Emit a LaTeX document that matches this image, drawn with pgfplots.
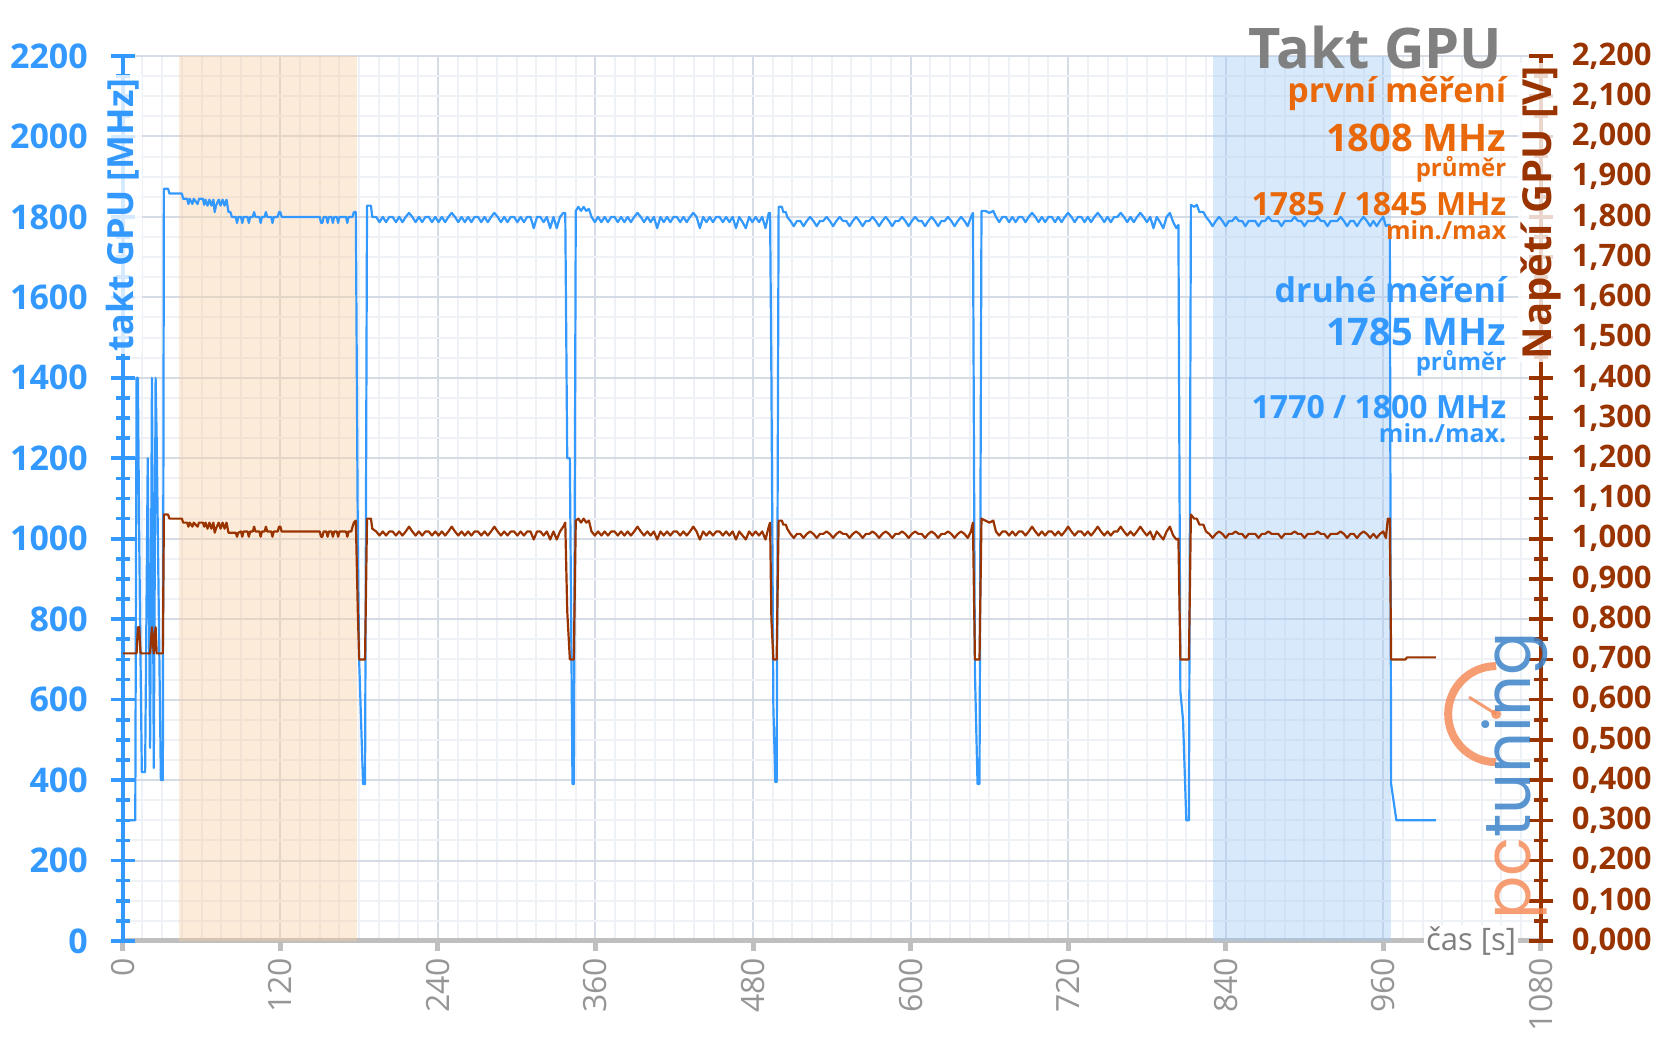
\documentclass[border=0pt]{standalone}
\usepackage{pgfplots}
\pgfplotsset{compat=1.18}
\usepackage{pgfplotstable}
\usepackage{fontspec}
\setmainfont{Open Sans}
\newfontfamily\logofont{Poppins}
\definecolor{blueC}{RGB}{51,153,255}
\definecolor{brownC}{RGB}{153,51,0}
\definecolor{orangeT}{RGB}{232,104,10}
\definecolor{titleG}{RGB}{128,128,128}
\definecolor{xgray}{RGB}{150,150,150}
\definecolor{axgray}{RGB}{191,191,191}
\definecolor{gridmaj}{RGB}{214,220,229}
\definecolor{gridmin}{RGB}{238,241,245}
\definecolor{shadeO}{RGB}{249,204,161}
\definecolor{shadeB}{RGB}{158,201,246}
\definecolor{logoO}{RGB}{244,140,90}
\definecolor{logoB}{RGB}{60,130,200}

\pgfplotstableread{
t f v
0 300 0.715
9.5 300 0.715
10.5 1400 0.715
11.5 1400 0.780
12.5 1000 0.780
13.5 700 0.715
14.5 420 0.715
17 420 0.715
19 1200 0.715
20.8 480 0.715
21.5 900 0.750
22.2 1400 0.780
23 900 0.740
23.6 430 0.715
24.3 900 0.760
25 1400 0.780
25.8 1250 0.715
29 400 0.715
30.5 400 0.715
31.3 1870 1.060
34.5 1870 1.060
35.5 1858 1.050
45 1858 1.050
46 1845 1.040
49 1845 1.040
50 1832 1.030
51 1845 1.040
53 1832 1.030
54 1845 1.040
57 1832 1.030
58 1845 1.040
61 1845 1.040
62 1830 1.030
63 1843 1.040
64.5 1828 1.025
66 1843 1.040
67.5 1828 1.025
69 1843 1.040
70 1812 1.015
71 1828 1.025
73 1843 1.040
74.5 1828 1.025
76 1843 1.040
77.5 1828 1.025
79 1843 1.040
80.5 1812 1.015
82 1812 1.015
83 1800 1.015
86 1800 1.015
87 1785 1.005
88 1800 1.015
90 1800 1.018
91 1785 1.005
92 1800 1.018
95 1800 1.018
96 1785 1.005
97 1800 1.018
99 1800 1.018
100 1812 1.030
101 1800 1.018
104 1800 1.018
105 1785 1.005
106 1800 1.018
108 1800 1.018
109 1812 1.030
110 1800 1.018
113 1800 1.018
114 1785 1.005
115 1800 1.018
118 1800 1.018
119 1812 1.030
120 1812 1.030
121 1800 1.018
150 1800 1.018
151 1785 1.005
152 1785 1.005
153 1800 1.018
155 1800 1.018
156 1785 1.005
157 1800 1.018
159 1800 1.018
160 1785 1.005
161 1800 1.018
163 1800 1.018
164 1785 1.005
165 1800 1.018
170 1800 1.018
171 1785 1.005
172 1800 1.018
174 1800 1.018
175 1800 1.030
176 1812 1.040
177.5 1812 1.045
179 1000 0.820
180 700 0.700
183 390 0.700
184.5 390 0.700
186 1828 1.050
189 1828 1.050
190 1800 1.025
193 1800 1.018
195.5 1787 1.008
198 1800 1.018
200.5 1787 1.008
203 1800 1.018
205.5 1800 1.018
208 1787 1.008
210.5 1800 1.018
213 1787 1.008
215.5 1800 1.018
218 1810 1.030
220.5 1800 1.018
223 1787 1.008
225.5 1800 1.018
228 1787 1.008
230.5 1800 1.018
233 1800 1.018
235.5 1787 1.008
238 1800 1.018
240.5 1787 1.008
243 1800 1.018
245.5 1787 1.008
248 1800 1.018
250.5 1810 1.030
253 1800 1.018
255.5 1787 1.008
258 1800 1.018
260.5 1787 1.008
263 1800 1.018
265.5 1787 1.008
268 1800 1.018
270.5 1800 1.018
273 1787 1.008
275.5 1800 1.018
278 1787 1.008
280.5 1800 1.018
283 1810 1.030
285.5 1800 1.018
288 1787 1.008
290.5 1800 1.018
293 1787 1.008
295.5 1800 1.018
298 1800 1.018
300.5 1787 1.008
303 1800 1.018
305.5 1787 1.008
308 1800 1.018
310.5 1800 1.018
313 1772 0.998
315.5 1800 1.018
318 1800 1.018
320.5 1787 1.008
323 1800 1.018
325.5 1772 0.998
328 1800 1.018
330.5 1772 0.998
333 1800 1.018
335.5 1810 1.030
337 1810 1.040
338.5 1200 0.820
340.5 1200 0.700
342.5 390 0.700
343.5 390 0.700
345 1815 1.045
347 1825 1.050
349 1815 1.040
351 1825 1.050
353 1815 1.040
355 1820 1.045
357 1800 1.018
359.5 1787 1.008
362 1800 1.018
364.5 1787 1.008
367 1800 1.018
369.5 1787 1.008
372 1800 1.018
374.5 1800 1.018
377 1787 1.008
379.5 1800 1.018
382 1787 1.008
384.5 1800 1.018
387 1787 1.008
389.5 1800 1.018
392 1810 1.030
394.5 1800 1.018
397 1787 1.008
399.5 1800 1.018
402 1787 1.008
404.5 1800 1.018
407 1772 0.998
409.5 1800 1.018
412 1787 1.008
414.5 1800 1.018
417 1787 1.008
419.5 1800 1.018
422 1800 1.018
424.5 1787 1.008
427 1800 1.018
429.5 1787 1.008
432 1800 1.018
434.5 1810 1.030
437 1800 1.018
439.5 1772 0.998
442 1800 1.018
444.5 1787 1.008
447 1800 1.018
449.5 1787 1.008
452 1800 1.018
454.5 1800 1.018
457 1787 1.008
459.5 1800 1.018
462 1787 1.008
464.5 1800 1.018
467 1772 0.998
469.5 1800 1.018
472 1787 1.008
474.5 1772 0.998
477 1800 1.018
479.5 1787 1.008
482 1800 1.018
484.5 1787 1.008
487 1800 1.018
489.5 1772 0.998
492 1810 1.030
493 1810 1.040
494 1400 0.800
495.5 580 0.700
497 395 0.700
498 395 0.700
499.5 1825 1.045
502 1825 1.045
503 1812 1.035
505 1812 1.035
506 1800 1.025
508.5 1790 1.012
511 1777 1.002
513.5 1790 1.012
516 1790 1.012
518.5 1777 1.002
521 1790 1.012
523.5 1800 1.018
526 1790 1.012
528.5 1777 1.002
531 1790 1.012
533.5 1790 1.012
536 1800 1.018
538.5 1790 1.012
541 1777 1.002
543.5 1790 1.012
546 1800 1.018
548.5 1790 1.012
551 1790 1.012
553.5 1777 1.002
556 1790 1.012
558.5 1800 1.018
561 1790 1.012
563.5 1777 1.002
566 1790 1.012
568.5 1790 1.012
571 1800 1.018
573.5 1790 1.012
576 1777 1.002
578.5 1790 1.012
581 1800 1.018
583.5 1790 1.012
586 1777 1.002
588.5 1790 1.012
591 1790 1.012
593.5 1800 1.018
596 1790 1.012
598.5 1777 1.002
601 1790 1.012
603.5 1800 1.018
606 1790 1.012
608.5 1790 1.012
611 1777 1.002
613.5 1790 1.012
616 1800 1.018
618.5 1790 1.012
621 1777 1.002
623.5 1790 1.012
626 1790 1.012
628.5 1800 1.018
631 1790 1.012
633.5 1777 1.002
636 1790 1.012
638.5 1800 1.018
641 1790 1.012
643.5 1777 1.002
646 1800 1.018
647.5 1810 1.040
649 670 0.700
651 390 0.700
652.5 390 0.700
654 1815 1.050
657 1815 1.045
660 1810 1.040
663 1815 1.045
665 1800 1.018
667.5 1787 1.008
670 1800 1.018
672.5 1800 1.018
675 1787 1.008
677.5 1800 1.018
680 1787 1.008
682.5 1800 1.018
685 1800 1.018
687.5 1787 1.008
690 1800 1.018
692.5 1810 1.030
695 1800 1.018
697.5 1787 1.008
700 1800 1.018
702.5 1787 1.008
705 1800 1.018
707.5 1800 1.018
710 1787 1.008
712.5 1800 1.018
715 1787 1.008
717.5 1800 1.018
720 1810 1.030
722.5 1800 1.018
725 1787 1.008
727.5 1800 1.018
730 1800 1.018
732.5 1787 1.008
735 1800 1.018
737.5 1787 1.008
740 1800 1.018
742.5 1810 1.030
745 1800 1.018
747.5 1787 1.008
750 1800 1.018
752.5 1787 1.008
755 1800 1.018
757.5 1800 1.018
760 1810 1.030
762.5 1800 1.018
765 1787 1.008
767.5 1800 1.018
770 1787 1.008
772.5 1800 1.018
775 1810 1.030
777.5 1800 1.018
780 1787 1.008
782.5 1800 1.018
785 1772 0.998
787.5 1800 1.018
790 1787 1.008
792.5 1772 0.998
795 1800 1.018
797.5 1810 1.030
800 1787 1.008
802.5 1772 0.998
804 1780 1.000
805.5 620 0.700
807.5 550 0.700
810 300 0.700
812 300 0.700
813.5 1830 1.060
816 1825 1.050
818 1830 1.050
820 1812 1.035
823 1812 1.035
825 1800 1.018
827.5 1790 1.012
830 1777 1.002
832.5 1790 1.012
835 1800 1.018
837.5 1790 1.012
840 1777 1.002
842.5 1790 1.012
845 1790 1.012
847.5 1800 1.018
850 1790 1.012
852.5 1790 1.012
855 1777 1.002
857.5 1790 1.012
860 1790 1.012
862.5 1790 1.012
865 1777 1.002
867.5 1790 1.012
870 1790 1.012
872.5 1800 1.018
875 1790 1.012
877.5 1790 1.012
880 1790 1.012
882.5 1777 1.002
885 1790 1.012
887.5 1790 1.012
890 1790 1.012
892.5 1800 1.018
895 1790 1.012
897.5 1790 1.012
900 1777 1.002
902.5 1790 1.012
905 1790 1.012
907.5 1790 1.012
910 1800 1.018
912.5 1790 1.012
915 1790 1.012
917.5 1777 1.002
920 1790 1.012
922.5 1790 1.012
925 1790 1.012
927.5 1800 1.018
930 1790 1.012
932.5 1777 1.002
935 1790 1.012
937.5 1790 1.012
940 1777 1.002
942.5 1790 1.012
945 1800 1.018
947.5 1790 1.012
950 1777 1.002
952.5 1790 1.012
955 1777 1.002
957.5 1790 1.012
960 1800 1.018
962 1777 1.002
963.5 1780 1.050
965 1780 1.050
966 390 0.700
970 300 0.700
977 300 0.700
978 300 0.705
1000 300 0.705
}\data

\pgfplotsset{
  base/.style={
    scale only axis, width=709pt, height=442.5pt,
    xmin=0, xmax=1080, clip=false,
    /pgf/number format/assume math mode=true,
    /pgf/number format/1000 sep={},
  },
}
\tikzset{ann/.style={anchor=base east, inner sep=0pt}}

\begin{document}
\begin{tikzpicture}
% ---------- axis 1: grid, x axis, shading, clock line
\begin{axis}[base,
  ymin=0, ymax=2200,
  axis x line*=bottom, axis y line*=left,
  xtick={0,120,...,1080}, minor x tick num=7,
  ytick={0,200,...,2200}, minor y tick num=3,
  yticklabels={},
  grid=both,
  major grid style={draw=gridmaj, line width=1pt},
  minor grid style={draw=gridmin, line width=1pt},
  x axis line style={draw=axgray, line width=2.5pt, -},
  y axis line style={draw=none},
  tick align=outside,
  major tick length=5pt,
  xtick style={draw=axgray, line width=2.5pt},
  minor x tick style={draw=none},
  ytick style={draw=none},
  minor y tick style={draw=none},
  xticklabel style={rotate=90, anchor=east, text=xgray, font=\fontsize{16}{16}\selectfont},
]
\coordinate (BL) at (rel axis cs:0,0);
\coordinate (TR) at (rel axis cs:1,1);
\addplot[draw=none, fill=shadeO, fill opacity=0.4] coordinates {(43,0) (178,0) (178,2200) (43,2200)} -- cycle;
\addplot[draw=none, fill=shadeB, fill opacity=0.4] coordinates {(830,0) (966,0) (966,2200) (830,2200)} -- cycle;
\addplot[blueC, line width=1.1pt, line join=round] table[x=t, y=f] {\data};
\node[anchor=east, fill=white, inner sep=1pt, text=titleG, font=\fontsize{15.5}{15.5}\selectfont] at (axis cs:1063,0) {čas [s]};
\end{axis}

% ---------- axis 2: left y axis
\begin{axis}[base,
  ymin=0, ymax=2200,
  axis x line=none, axis y line*=left,
  ytick={0,200,...,2200}, minor y tick num=3,
  tick align=center,
  major tick length=12pt, minor tick length=7pt,
  y axis line style={draw=blueC, line width=1.8pt, -},
  ytick style={draw=blueC, line width=1.8pt},
  yticklabel style={text=blueC, font=\bfseries\fontsize{17}{17}\selectfont, xshift=-8pt},
]
\node[rotate=90, text=blueC, fill=white, fill opacity=0.8, text opacity=1, inner sep=1.5pt, font=\bfseries\fontsize{18}{18}\selectfont, xshift=-2pt] at (axis cs:0,1815) {takt GPU [MHz]};
\end{axis}

% ---------- axis 3: right y axis, voltage
\begin{axis}[base,
  ymin=0, ymax=2.2,
  axis x line=none, axis y line*=right,
  ytick={0,0.1,0.2,0.3,0.4,0.5,0.6,0.7,0.8,0.9,1.0,1.1,1.2,1.3,1.4,1.5,1.6,1.7,1.8,1.9,2.0,2.1,2.2},
  minor y tick num=1,
  tick align=center,
  major tick length=12pt, minor tick length=7pt,
  y axis line style={draw=brownC, line width=1.8pt, -},
  ytick style={draw=brownC, line width=1.8pt},
  yticklabel={\pgfmathprintnumber[fixed, fixed zerofill, precision=3, use comma]{\tick}},
  yticklabel style={text=brownC, font=\bfseries\fontsize{15.5}{15.5}\selectfont, xshift=6pt},
]
\addplot[brownC, line width=1.1pt, line join=round] table[x=t, y=v] {\data};
% logo
\draw[logoO, line width=4pt, opacity=0.85] ([shift={(90:24pt)}]axis cs:1046,0.564) arc[start angle=90, end angle=270, radius=24pt];
\draw[logoO, line width=1.5pt, opacity=0.85] (axis cs:1046,0.564) -- ++(148:16pt);
\fill[logoO, opacity=0.85] (axis cs:1046,0.564) circle (2.5pt);
\node[rotate=90, font=\logofont\fontsize{32}{32}\selectfont, opacity=0.85] at (axis cs:1060,0.41) {\textcolor{logoO}{pc}\textcolor{logoB}{tuning}};
% axis labels
\node[rotate=90, text=brownC, fill=white, fill opacity=0.8, text opacity=1, inner sep=1.5pt, font=\bfseries\fontsize{20}{20}\selectfont] at (axis cs:1080,1.81) {Napětí GPU [V]};
% title and annotations
\node[ann, text=titleG, font=\bfseries\fontsize{28}{28}\selectfont] at (axis cs:1051,2.168) {Takt GPU};
\node[ann, text=orangeT, font=\bfseries\fontsize{17}{17}\selectfont] at (axis cs:1054,2.085) {první měření};
\node[ann, text=orangeT, font=\bfseries\fontsize{19}{19}\selectfont] at (axis cs:1054,1.962) {1808 MHz};
\node[ann, text=orangeT, font=\bfseries\fontsize{12}{12}\selectfont] at (axis cs:1054,1.900) {průměr};
\node[ann, text=orangeT, font=\bfseries\fontsize{16}{16}\selectfont] at (axis cs:1054,1.803) {1785 / 1845 MHz};
\node[ann, text=orangeT, font=\bfseries\fontsize{12.5}{12.5}\selectfont] at (axis cs:1054,1.745) {min./max};
\node[ann, text=blueC, font=\bfseries\fontsize{17}{17}\selectfont] at (axis cs:1054,1.588) {druhé měření};
\node[ann, text=blueC, font=\bfseries\fontsize{19}{19}\selectfont] at (axis cs:1054,1.480) {1785 MHz};
\node[ann, text=blueC, font=\bfseries\fontsize{12}{12}\selectfont] at (axis cs:1054,1.418) {průměr};
\node[ann, text=blueC, font=\bfseries\fontsize{16}{16}\selectfont] at (axis cs:1054,1.298) {1770 / 1800 MHz};
\node[ann, text=blueC, font=\bfseries\fontsize{12.5}{12.5}\selectfont] at (axis cs:1054,1.240) {min./max.};
\end{axis}
\pgfresetboundingbox
\path[use as bounding box] ([shift={(-61.4pt,-51.5pt)}]BL) rectangle ([shift={(57.6pt,28pt)}]TR);
\end{tikzpicture}
\end{document}
